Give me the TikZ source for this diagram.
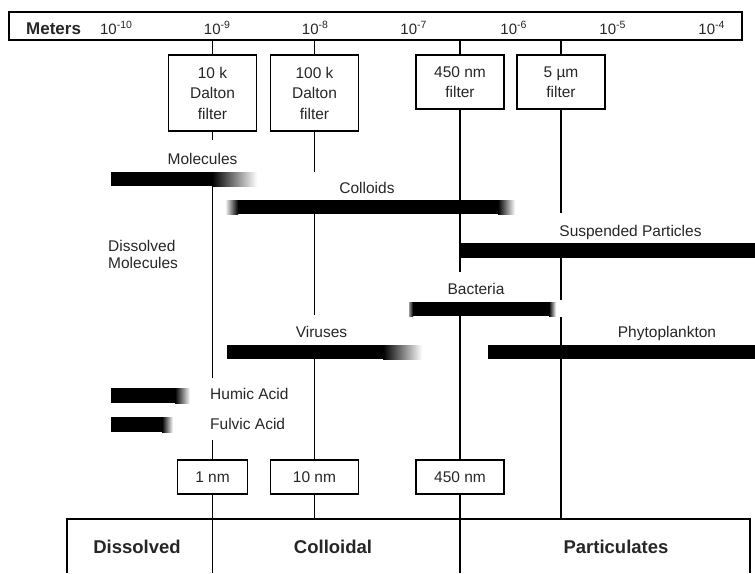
\documentclass[tikz,border=0pt]{standalone}
\usepackage{fontspec}
\setmainfont{Liberation Sans}
\newcommand\mysup[1]{\raisebox{6pt}{\fontsize{10.5}{10.5}\selectfont #1}}
\begin{document}
\begin{tikzpicture}[x=1pt,y=-1pt,
  lbl/.style={font=\fontsize{15.5}{18}\selectfont, inner sep=0pt, text=black!85, anchor=base},
  filt/.style={draw, line width=1.5pt, minimum width=88pt, align=center, font=\fontsize{15.5}{20.5}\selectfont, inner sep=0pt, text=black!85},
  cut/.style={draw, line width=1.5pt, minimum height=34pt, inner sep=0pt, font=\fontsize{15.5}{18}\selectfont, text=black!85},
  conn/.style={line width=1.2pt},
  ticklbl/.style={anchor=base, inner sep=0pt, font=\fontsize{15}{16}\selectfont, text=black!85},
  phase/.style={anchor=base, inner sep=0pt, font=\fontsize{18.5}{22}\selectfont\bfseries, text=black!85},
  fadeR/.style={left color=black, right color=white},
  fadeL/.style={left color=white, right color=black}]
\useasboundingbox (0,0) rectangle (755,573);

% axis bar
\node[draw, line width=1.7pt, minimum width=733pt, minimum height=28pt, inner sep=0pt] (axis) at (375.5,26) {};
\node[ticklbl, anchor=base west, font=\fontsize{17}{18}\selectfont\bfseries] (meters) at (26,34) {Meters};
\node[ticklbl] (t10) at (116,34) {10\mysup{-10}};
\node[ticklbl] (t9) at (217,34) {10\mysup{-9}};
\node[ticklbl] (t8) at (315,34) {10\mysup{-8}};
\node[ticklbl] (t7) at (413.5,34) {10\mysup{-7}};
\node[ticklbl] (t6) at (513.5,34) {10\mysup{-6}};
\node[ticklbl] (t5) at (612.5,34) {10\mysup{-5}};
\node[ticklbl] (t4) at (711.5,34) {10\mysup{-4}};

% filter boxes
\node[filt, minimum height=76pt] (f10k) at (212.5,93) {10 k\\Dalton\\filter};
\node[filt, minimum height=76pt] (f100k) at (314.5,93) {100 k\\Dalton\\filter};
\node[filt, minimum height=54pt] (f450) at (460,82) {450 nm\\filter};
\node[filt, minimum height=54pt] (f5) at (561,82) {5 µm\\filter};

% cut-off boxes
\node[cut, minimum width=70pt] (b1) at (212.5,477) {1 nm};
\node[cut, minimum width=88pt] (b10) at (314.5,477) {10 nm};
\node[cut, minimum width=88pt] (b450) at (460,477) {450 nm};

% gap coordinates
\coordinate (a1) at (212.5,140);
\coordinate (a2) at (212.5,186);
\coordinate (a3) at (212.5,378);
\coordinate (a4) at (212.5,440);
\coordinate (a5) at (212.5,573);
\coordinate (c1) at (314.5,172);
\coordinate (c2) at (314.5,200);
\coordinate (c3) at (314.5,315);
\coordinate (c4) at (314.5,359);
\coordinate (c5) at (314.5,519);
\coordinate (d1) at (460,272);
\coordinate (d2) at (460,302);
\coordinate (d3) at (460,573);
\coordinate (e1) at (561,213);
\coordinate (e2) at (561,243);
\coordinate (e3) at (561,300);
\coordinate (e4) at (561,317);
\coordinate (e5) at (561,519);

% vertical lines
\draw[conn] (f10k.north) -- (f10k.north |- axis.south);
\draw[conn] (f10k.south) -- (a1);
\draw[conn] (a2) -- (a3);
\draw[conn] (a4) -- (b1.north);
\draw[conn] (b1.south) -- (a5);

\draw[conn] (f100k.north) -- (f100k.north |- axis.south);
\draw[conn] (f100k.south) -- (c1);
\draw[conn] (c2) -- (c3);
\draw[conn] (c4) -- (b10.north);
\draw[conn] (b10.south) -- (c5);

\draw[conn] (f450.north) -- (f450.north |- axis.south);
\draw[conn] (f450.south) -- (d1);
\draw[conn] (d2) -- (b450.north);
\draw[conn] (b450.south) -- (d3);

\draw[conn] (f5.north) -- (f5.north |- axis.south);
\draw[conn] (f5.south) -- (e1);
\draw[conn] (e2) -- (e3);
\draw[conn] (e4) -- (e5);

% bottom phase box
\coordinate (p1) at (67,573);
\coordinate (p2) at (67,519);
\coordinate (p3) at (750,519);
\coordinate (p4) at (750,573);
\draw[line width=1.5pt] (p1) -- (p2) -- (p3) -- (p4);
\node[phase] (dis) at (137,553) {Dissolved};
\node[phase] (col) at (333,553) {Colloidal};
\node[phase] (par) at (616,553) {Particulates};

% range bars
% Molecules
\fill (111,172) rectangle (212,186);
\shade[fadeR] (212,172) rectangle (257,186);
% Colloids
\shade[fadeL] (225,200) rectangle (238,214);
\fill (238,200) rectangle (498,214);
\shade[fadeR] (498,200) rectangle (515,214);
% Suspended particles
\fill (460,243) rectangle (755,258);
% Bacteria
\shade[left color=black!40, right color=black] (409,302) rectangle (413,316);
\fill (413,302) rectangle (549,316);
\shade[fadeR] (549,302) rectangle (556,316);
% Viruses
\fill (227,345) rectangle (383,359);
\shade[fadeR] (383,345) rectangle (422,359);
% Phytoplankton
\fill (488,345) rectangle (755,359);
% Humic acid
\fill (111,388) rectangle (175,403);
\shade[fadeR] (175,388) rectangle (190,403);
% Fulvic acid
\fill (111,417) rectangle (162,432);
\shade[fadeR] (162,417) rectangle (173,432);

% labels
\node[lbl] (lmol) at (202.5,164) {Molecules};
\node[lbl] (lcol) at (367,193) {Colloids};
\node[lbl, anchor=base west] (ldm1) at (108,251) {Dissolved};
\node[lbl, anchor=base west] (ldm2) at (108,268.5) {Molecules};
\node[lbl] (lsus) at (630.5,236) {Suspended Particles};
\node[lbl] (lbac) at (476,294) {Bacteria};
\node[lbl] (lvir) at (321.5,337) {Viruses};
\node[lbl] (lphy) at (667,337) {Phytoplankton};
\node[lbl, anchor=base west] (lhum) at (210,399.5) {Humic Acid};
\node[lbl, anchor=base west] (lful) at (210,429) {Fulvic Acid};
\end{tikzpicture}
\end{document}
